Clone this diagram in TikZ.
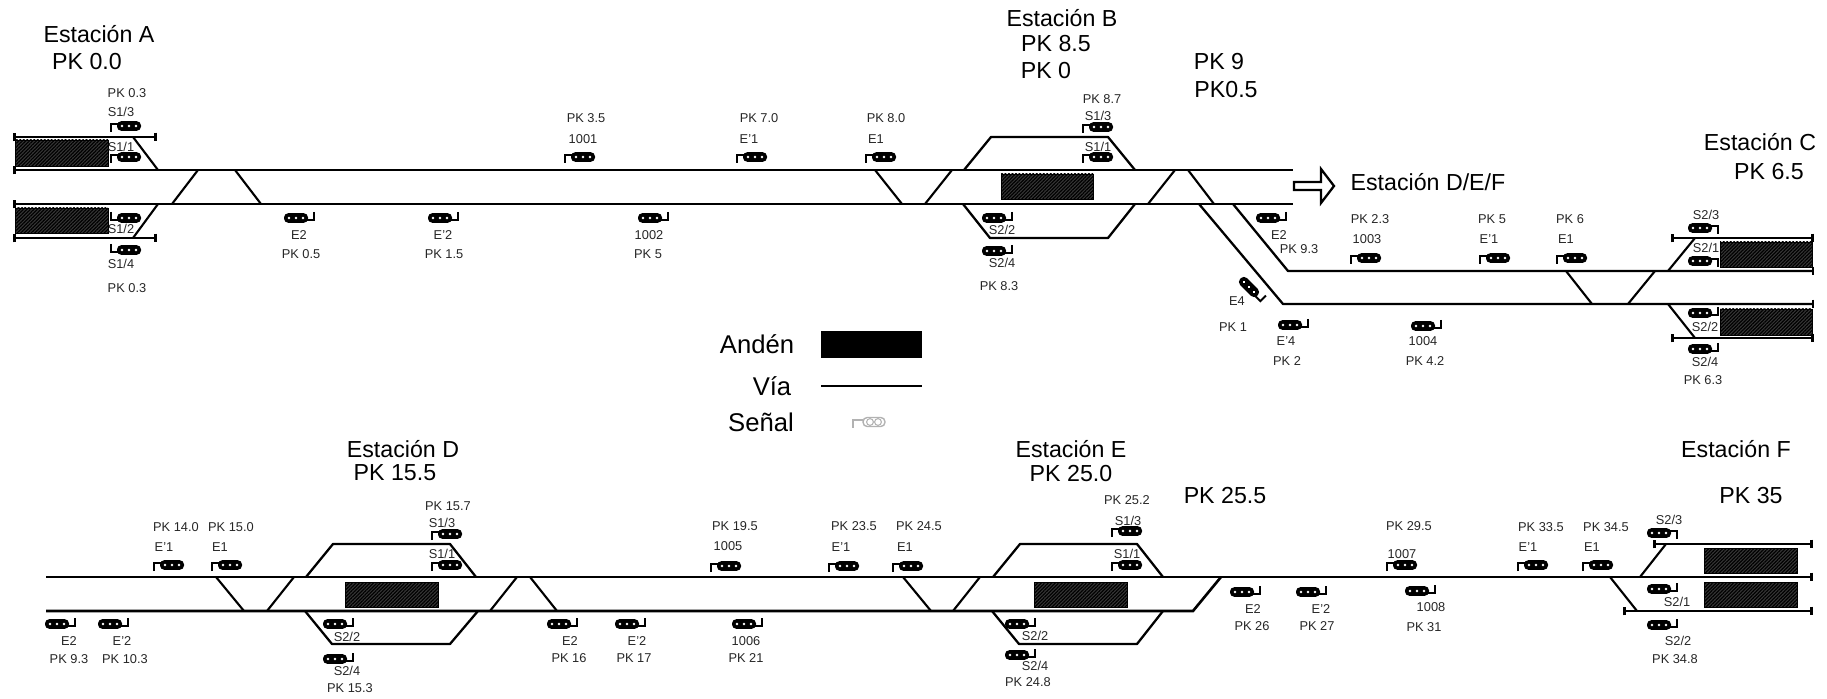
\documentclass[tikz,border=0pt]{standalone}
\usepackage{fontspec}
\setmainfont{Liberation Sans}
\usepackage{tikz}
\usetikzlibrary{arrows.meta, patterns.meta}

\begin{document}
\begin{tikzpicture}[
  x=0.02cm, y=-0.02cm,
  via/.style={line width=1.5pt},
  lazo/.style={line width=1.3pt, line join=round},
  cruce/.style={line width=1.2pt},
  tope/.style={{Bar[width=5pt,length=1pt]}-{Bar[width=5pt,length=1pt]}},
  topeizq/.style={{Bar[width=5pt,length=1pt]}-},
  topeder/.style={-{Bar[width=5pt,length=1pt]}},
  anden/.style={draw=black, line width=0.5pt, fill=black!78, postaction={pattern={Lines[angle=45,distance=1.4pt,line width=.7pt]}, pattern color=black}},
  rotulo/.style={inner sep=0pt, text=black!85, font=\fontsize{7.3}{9}\selectfont},
  titulo/.style={inner sep=0pt, font=\fontsize{13.2}{16}\selectfont},
  leyenda/.style={inner sep=0pt, font=\fontsize{14.6}{17}\selectfont},
  der/.style={xscale=-1},
  arr/.style={yscale=-1},
  senal/.pic={
    \draw[line width=1.1pt] (-18,6) -- (-18,-2) -- (-10,-2);
    \fill[rounded corners=2.4pt] (-12,-4.8) rectangle (12,4.8);
    \fill[white] (-7,0) circle (1.3) (0,0) circle (1.3) (7,0) circle (1.3);
  },
  senalgris/.pic={
    \draw[gray!60, line width=0.8pt] (-21,6) -- (-21,-2) -- (-11,-2);
    \draw[gray!60, line width=0.8pt, rounded corners=2.4pt] (-11,-4.5) rectangle (11,4.5);
    \draw[gray!60, line width=0.6pt] (-4,0) circle (3.4) (4,0) circle (3.4);
  }
]
\useasboundingbox (0,0) rectangle (1827,699);

% ===== Tramo superior: vias =====
\draw[via, topeizq] (13,170) -- (1293,170);
\draw[via, topeizq] (13,204) -- (1293,204);
\draw[via, tope] (13,137) -- (157,137);
\draw[via, tope] (13,238) -- (157,238);
\draw[cruce] (133,137) -- (158,170);
\draw[cruce] (158,204) -- (133,238);
\draw[cruce] (198,170) -- (172,204);
\draw[cruce] (235,170) -- (261,204);
\draw[cruce] (875,170) -- (902,204);
\draw[cruce] (952,170) -- (925,204);
\draw[lazo] (964,170) -- (991,137) -- (1108,137) -- (1135,170);
\draw[lazo] (963,204) -- (990,238) -- (1108,238) -- (1135,204);
\draw[cruce] (1175,170) -- (1148,204);
\draw[cruce] (1188,170) -- (1214,204);
\draw[lazo, topeder] (1233,204) -- (1288,271) -- (1814,271);
\draw[lazo, topeder] (1199,204) -- (1283,304) -- (1814,304);
\draw[cruce] (1566,271) -- (1592,304);
\draw[cruce] (1655,271) -- (1628,304);
\draw[cruce] (1695,238) -- (1668,271);
\draw[cruce] (1668,304) -- (1695,338);
\draw[via, tope] (1671,238) -- (1814,238);
\draw[via, tope] (1671,338) -- (1814,338);

% Andenes
\draw[anden] (15,140) rectangle (108,166);
\draw[anden] (15,208) rectangle (108,233);
\draw[anden] (1001,174) rectangle (1093,199);
\draw[anden] (1720,242) rectangle (1812,267);
\draw[anden] (1720,309) rectangle (1812,335);

% Flecha
\draw[line width=1.3pt, line join=miter, fill=white] (1294,182) -- (1321,182) -- (1321,169) -- (1334,186) -- (1321,203) -- (1321,190) -- (1294,190) -- cycle;

% ===== Leyenda =====
\fill (821,331) rectangle (922,358);
\draw[via] (821,386) -- (922,386);
\pic at (874,422) {senalgris};
\node[leyenda] (andenley) at (757,344) {Andén};
\node[leyenda] (vialey) at (772,386) {Vía};
\node[leyenda] (senalley) at (761,422) {Señal};

% ===== Tramo inferior: vias =====
\draw[via] (46,611) -- (1193,611) -- (1221,577);
\draw[via, topeder] (46,577) -- (1813,577);
\draw[cruce] (216,577) -- (244,611);
\draw[cruce] (294,577) -- (267,611);
\draw[lazo] (306,577) -- (333,544) -- (450,544) -- (476,577);
\draw[lazo] (305,611) -- (332,644) -- (450,644) -- (478,611);
\draw[cruce] (517,577) -- (490,611);
\draw[cruce] (530,577) -- (557,611);
\draw[cruce] (903,577) -- (931,611);
\draw[cruce] (980,577) -- (953,611);
\draw[lazo] (993,577) -- (1020,544) -- (1137,544) -- (1163,577);
\draw[lazo] (992,611) -- (1019,644) -- (1137,644) -- (1163,611);
\draw[cruce] (1610,577) -- (1637,611);
\draw[cruce] (1666,544) -- (1640,577);
\draw[via, tope] (1653,544) -- (1813,544);
\draw[via, tope] (1623,611) -- (1813,611);

% Andenes
\draw[anden] (345,582) rectangle (438,607);
\draw[anden] (1034,582) rectangle (1127,607);
\draw[anden] (1704,548) rectangle (1797,573);
\draw[anden] (1704,582) rectangle (1797,607);

% ===== Senales, tramo superior =====
\pic at (129,126) {senal};
\pic at (129,157) {senal};
\pic[arr] at (129,218) {senal};
\pic[arr] at (129,250) {senal};
\pic[der,arr] at (296,218) {senal};
\pic[der,arr] at (440,218) {senal};
\pic at (583,157) {senal};
\pic[der,arr] at (650,218) {senal};
\pic at (755,157) {senal};
\pic at (884,157) {senal};
\pic at (1101,127) {senal};
\pic at (1101,157) {senal};
\pic[der,arr] at (994,218) {senal};
\pic[der,arr] at (994,251) {senal};
\pic[der,arr] at (1268,218) {senal};
\pic[rotate=-45,der,arr] at (1249,287) {senal};
\pic[der,arr] at (1290,325) {senal};
\pic at (1369,258) {senal};
\pic[der,arr] at (1423,326) {senal};
\pic at (1498,258) {senal};
\pic at (1575,258) {senal};
\pic[der] at (1700,228) {senal};
\pic[der] at (1700,261) {senal};
\pic[der,arr] at (1700,313) {senal};
\pic[der,arr] at (1700,349) {senal};

% ===== Senales, tramo inferior =====
\pic[der,arr] at (57,624) {senal};
\pic[der,arr] at (110,624) {senal};
\pic at (172,565) {senal};
\pic at (230,565) {senal};
\pic at (450,534) {senal};
\pic at (450,565) {senal};
\pic[der,arr] at (335,624) {senal};
\pic[der,arr] at (335,659) {senal};
\pic[der,arr] at (559,624) {senal};
\pic[der,arr] at (627,624) {senal};
\pic at (729,566) {senal};
\pic[der,arr] at (744,624) {senal};
\pic at (847,566) {senal};
\pic at (911,566) {senal};
\pic at (1130,531) {senal};
\pic at (1130,565) {senal};
\pic[der,arr] at (1017,624) {senal};
\pic[der,arr] at (1017,655) {senal};
\pic[der,arr] at (1242,592) {senal};
\pic[der,arr] at (1308,592) {senal};
\pic at (1405,565) {senal};
\pic[der,arr] at (1417,591) {senal};
\pic at (1536,565) {senal};
\pic at (1601,565) {senal};
\pic[der] at (1659,533) {senal};
\pic[der,arr] at (1659,589) {senal};
\pic[der,arr] at (1659,625) {senal};

% ===== Titulos =====
\node[titulo] (estA) at (99,34) {Estación A};
\node[titulo] (pkA) at (87,62) {PK 0.0};
\node[titulo] (estB) at (1062,18) {Estación B};
\node[titulo] (pkB) at (1056,44) {PK 8.5};
\node[titulo] (pkBb) at (1046,71) {PK 0};
\node[titulo] (pkN) at (1219,62) {PK 9};
\node[titulo] (pkNb) at (1226,90) {PK0.5};
\node[titulo] (estC) at (1760,142) {Estación C};
\node[titulo] (pkC) at (1769,172) {PK 6.5};
\node[titulo] (estDEF) at (1428,182) {Estación D/E/F};
\node[titulo] (estD) at (403,449) {Estación D};
\node[titulo] (pkD) at (395,473) {PK 15.5};
\node[titulo] (estE) at (1071,449) {Estación E};
\node[titulo] (pkE) at (1071,474) {PK 25.0};
\node[titulo] (pkM) at (1225,496) {PK 25.5};
\node[titulo] (estF) at (1736,449) {Estación F};
\node[titulo] (pkF) at (1751,496) {PK 35};

% ===== Rotulos, tramo superior =====
\node[rotulo] (a1) at (127,93) {PK 0.3};
\node[rotulo] (a2) at (121,112) {S1/3};
\node[rotulo] (a3) at (121,147) {S1/1};
\node[rotulo] (a4) at (121,229) {S1/2};
\node[rotulo] (a5) at (121,264) {S1/4};
\node[rotulo] (a6) at (127,288) {PK 0.3};
\node[rotulo] (a7) at (299,235) {E2};
\node[rotulo] (a8) at (301,254) {PK 0.5};
\node[rotulo] (a9) at (443,235) {E'2};
\node[rotulo] (a10) at (444,254) {PK 1.5};
\node[rotulo] (a11) at (586,118) {PK 3.5};
\node[rotulo] (a12) at (583,139) {1001};
\node[rotulo] (a13) at (649,235) {1002};
\node[rotulo] (a14) at (648,254) {PK 5};
\node[rotulo] (a15) at (759,118) {PK 7.0};
\node[rotulo] (a16) at (749,139) {E'1};
\node[rotulo] (b1) at (886,118) {PK 8.0};
\node[rotulo] (b2) at (876,139) {E1};
\node[rotulo] (b3) at (1102,99) {PK 8.7};
\node[rotulo] (b4) at (1098,116) {S1/3};
\node[rotulo] (b5) at (1098,147) {S1/1};
\node[rotulo] (b6) at (1002,230) {S2/2};
\node[rotulo] (b7) at (1002,263) {S2/4};
\node[rotulo] (b8) at (999,286) {PK 8.3};
\node[rotulo] (b9) at (1279,235) {E2};
\node[rotulo] (b10) at (1299,249) {PK 9.3};
\node[rotulo] (b11) at (1237,301) {E4};
\node[rotulo] (b12) at (1233,327) {PK 1};
\node[rotulo] (b13) at (1286,341) {E'4};
\node[rotulo] (b14) at (1287,361) {PK 2};
\node[rotulo] (c1) at (1370,219) {PK 2.3};
\node[rotulo] (c2) at (1367,239) {1003};
\node[rotulo] (c3) at (1423,341) {1004};
\node[rotulo] (c4) at (1425,361) {PK 4.2};
\node[rotulo] (c5) at (1492,219) {PK 5};
\node[rotulo] (c6) at (1489,239) {E'1};
\node[rotulo] (c7) at (1570,219) {PK 6};
\node[rotulo] (c8) at (1566,239) {E1};
\node[rotulo] (c9) at (1706,215) {S2/3};
\node[rotulo] (c10) at (1706,248) {S2/1};
\node[rotulo] (c11) at (1705,327) {S2/2};
\node[rotulo] (c12) at (1705,362) {S2/4};
\node[rotulo] (c13) at (1703,380) {PK 6.3};

% ===== Rotulos, tramo inferior =====
\node[rotulo] (d1) at (69,641) {E2};
\node[rotulo] (d2) at (69,659) {PK 9.3};
\node[rotulo] (d3) at (122,641) {E'2};
\node[rotulo] (d4) at (125,659) {PK 10.3};
\node[rotulo] (d5) at (176,527) {PK 14.0};
\node[rotulo] (d6) at (164,547) {E'1};
\node[rotulo] (d7) at (231,527) {PK 15.0};
\node[rotulo] (d8) at (220,547) {E1};
\node[rotulo] (d9) at (448,506) {PK 15.7};
\node[rotulo] (d10) at (442,523) {S1/3};
\node[rotulo] (d11) at (442,554) {S1/1};
\node[rotulo] (d12) at (347,637) {S2/2};
\node[rotulo] (d13) at (347,671) {S2/4};
\node[rotulo] (d14) at (350,688) {PK 15.3};
\node[rotulo] (d15) at (570,641) {E2};
\node[rotulo] (d16) at (569,658) {PK 16};
\node[rotulo] (d17) at (637,641) {E'2};
\node[rotulo] (d18) at (634,658) {PK 17};
\node[rotulo] (d19) at (735,526) {PK 19.5};
\node[rotulo] (d20) at (728,546) {1005};
\node[rotulo] (d21) at (746,641) {1006};
\node[rotulo] (d22) at (746,658) {PK 21};
\node[rotulo] (e1) at (854,526) {PK 23.5};
\node[rotulo] (e2) at (841,547) {E'1};
\node[rotulo] (e3) at (919,526) {PK 24.5};
\node[rotulo] (e4) at (905,547) {E1};
\node[rotulo] (e5) at (1127,500) {PK 25.2};
\node[rotulo] (e6) at (1128,521) {S1/3};
\node[rotulo] (e7) at (1127,554) {S1/1};
\node[rotulo] (e8) at (1035,636) {S2/2};
\node[rotulo] (e9) at (1035,666) {S2/4};
\node[rotulo] (e10) at (1028,682) {PK 24.8};
\node[rotulo] (e11) at (1253,609) {E2};
\node[rotulo] (e12) at (1252,626) {PK 26};
\node[rotulo] (e13) at (1321,609) {E'2};
\node[rotulo] (e14) at (1317,626) {PK 27};
\node[rotulo] (f1) at (1409,526) {PK 29.5};
\node[rotulo] (f2) at (1402,554) {1007};
\node[rotulo] (f3) at (1431,607) {1008};
\node[rotulo] (f4) at (1424,627) {PK 31};
\node[rotulo] (f5) at (1541,527) {PK 33.5};
\node[rotulo] (f6) at (1528,547) {E'1};
\node[rotulo] (f7) at (1606,527) {PK 34.5};
\node[rotulo] (f8) at (1592,547) {E1};
\node[rotulo] (f9) at (1669,520) {S2/3};
\node[rotulo] (f10) at (1677,602) {S2/1};
\node[rotulo] (f11) at (1678,641) {S2/2};
\node[rotulo] (f12) at (1675,659) {PK 34.8};

\end{tikzpicture}
\end{document}
